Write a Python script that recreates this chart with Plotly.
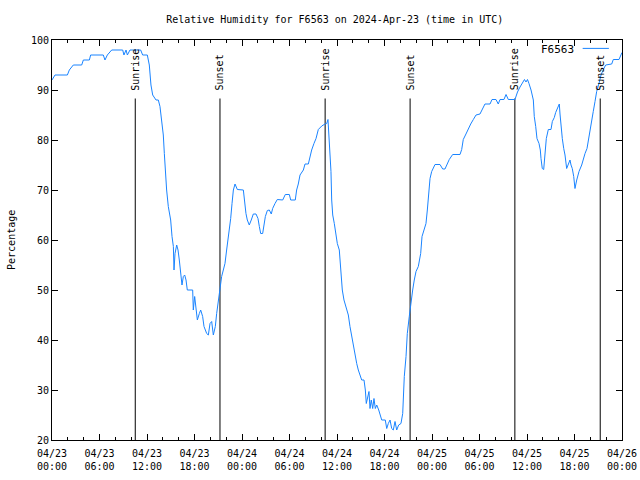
import pandas as pd
import plotly.graph_objects as go

# ---- data ----
station = "F6563"
start = "2024-04-23 00:00"
end = "2024-04-26 00:00"

# hours since 2024-04-23 00:00 UTC
hours = [
    0.0, 0.38, 1.94, 2.19, 2.69, 3.75, 3.96, 4.72, 4.88, 6.48, 6.69, 6.99, 7.54, 8.93, 9.09, 9.35,
    9.52, 9.85, 11.2, 11.45, 12.04, 12.29, 12.5, 12.72, 13.14, 13.43, 13.64, 13.85, 14.06, 14.19,
    14.32, 14.48, 14.69, 14.82, 14.99, 15.16, 15.33, 15.41, 15.54, 15.75, 15.92, 16.08, 16.25,
    16.42, 16.59, 16.76, 16.93, 17.09, 17.77, 17.85, 18.02,
    18.36, 18.61, 18.78, 19.03, 19.2, 19.54, 19.75, 19.96, 20.17, 20.38, 20.63, 20.8, 21.01, 21.22,
    21.43, 21.64, 21.85, 22.06, 22.23, 22.4, 22.57, 22.74, 22.91, 23.12, 23.41, 24.17, 24.29, 24.5,
    24.67, 24.92, 25.17, 25.43, 25.77, 26.02, 26.19, 26.36, 26.61, 26.78, 26.95, 27.2, 27.45, 27.7,
    27.87, 28.17, 28.46, 29.14, 29.47, 29.98, 30.15, 30.73, 30.9, 31.11, 31.33, 31.75, 31.96, 32.38,
    32.59, 32.8, 33.09, 33.35, 33.64, 34.07, 34.48, 34.7, 34.86,
    35.12, 35.24, 35.33, 35.46, 35.66, 35.84, 36.04, 36.29, 36.47, 36.67, 36.88, 37.14, 37.43,
    37.64, 37.86, 38.06, 38.27, 38.49, 38.69, 38.91, 39.12, 39.41, 39.58, 39.70, 39.88, 40.04,
    40.17, 40.33, 40.51, 40.67, 40.84, 41.02, 41.27, 41.43, 41.65, 42.10, 42.28, 42.48, 42.70,
    42.91, 43.11, 43.33, 43.54, 43.79, 44.08, 44.30, 44.50, 44.72, 44.88, 45.13, 45.35, 45.56,
    45.76, 45.98, 46.27, 46.57, 46.74, 46.95, 47.24, 47.41, 47.58, 47.75, 47.96, 48.16, 48.38,
    49.01, 49.35, 49.64, 49.86, 50.18, 50.61, 51.54, 51.75, 51.95, 52.29, 52.59, 52.89, 53.22,
    53.56, 54.06, 54.38, 54.69, 55.33, 55.58, 56.08, 56.37, 56.59, 57.09, 57.35, 57.64, 58.48,
    58.80, 59.12, 59.43, 59.68, 59.87, 60.06, 60.25, 60.51, 60.80, 60.92, 61.10, 61.26, 61.52,
    61.68, 61.77, 61.93, 62.11, 62.27, 62.44, 62.69, 63.03, 63.20, 63.45, 63.62, 63.88, 64.08,
    64.17, 64.29, 64.46, 64.64, 64.80, 65.01, 65.22, 65.43, 65.56, 65.72, 65.90, 66.06, 66.28,
    66.57, 66.91, 67.12, 67.33, 67.58, 67.74, 67.96, 68.17, 68.37, 68.59, 68.80, 69.09, 69.35,
    69.64, 69.94, 70.70, 70.90, 71.62, 71.83, 72.0,
]
humidity = [
    92, 93, 93, 94, 95, 95, 96, 96, 97, 97, 96, 97, 98, 98, 97, 98,
    97, 98, 98, 97, 97, 95, 91, 89, 88, 88, 86.7, 83.7, 81, 77.3,
    73.3, 70, 66.7, 65.3, 64, 60.7, 58.7, 54, 57.3, 59, 58, 56, 53.3,
    51, 52.7, 53, 52, 50, 50, 46, 48.7,
    44, 45.3, 46, 44.7, 42.7, 41.3, 41, 43.3, 43.7, 41, 42.7, 45.3, 48, 50.7,
    52.7, 54, 55.3, 58, 60, 62.7, 64.3, 67.3, 70, 71.2, 70.1, 70, 68, 65.3,
    64, 63, 64, 65.2, 65.2, 64.3, 62.7, 61.3, 61.3, 63, 64.7, 65.9, 66, 65.2,
    66.3, 67.3, 68.1, 68, 69.1, 69.1, 68, 68, 70, 71.2, 73, 74, 75.2, 75.2,
    76.7, 78, 79.3, 80.3, 82.1, 82.8, 83.2, 83.3, 84.1,
    78.3, 73.7, 68, 65, 63.3, 61, 59.3, 58, 54, 50, 48, 46.3, 45,
    42.7, 40.7, 38.7, 37, 35.3, 34, 33, 32, 32, 30, 27.3, 29, 29.7,
    26.3, 28, 26.3, 28.3, 26.3, 27, 26, 25, 24, 24, 22.3, 23.3, 24,
    22.3, 22, 23.7, 22, 23, 23.3, 25.3, 32.7, 36.7, 41.3, 44.7, 48, 50,
    52, 53.7, 54.7, 57.3, 60.7, 62, 63.3, 66, 70, 72.3, 73.7, 74.5, 75.1,
    75.1, 74.2, 74.2, 75.1, 76.1, 77.1, 77.1, 78.1, 80.1, 81.2, 82.3, 83.2, 84.1,
    85, 85.2, 86.1, 87.2, 87.2, 88.1, 88.1, 87.2, 88.1, 88.1, 89.1, 88.1, 88.1,
    89.6, 90.6, 91.5, 92.1, 91.6, 92.1, 91.3, 90, 88, 84.7, 82.7, 80.3, 79.3,
    78, 76.3, 74.3, 74.1, 78, 80.3, 82.1, 82.1, 83.7, 84.5, 85.5, 86.3, 87.2,
    85.2, 82.7, 80.3, 78.3, 77, 74.3, 75, 76, 75, 74.3, 72.7, 70.3, 72,
    73.7, 75, 76.3, 77.3, 78.3, 79.7, 81.3, 83.3, 85.7, 87.7, 89.7, 91.3, 93,
    94.1, 95, 95.2, 96.1, 96.1, 97, 97.5,
]

sunrise = ["2024-04-23 10:31", "2024-04-24 10:30", "2024-04-25 10:28"]
sunset = ["2024-04-23 21:13", "2024-04-24 21:14", "2024-04-25 21:15"]
marker_bottom = 20
marker_top = 88.3
label_y = 89.5

y_ticks = [20, 30, 40, 50, 60, 70, 80, 90, 100]

# ---- figure ----
FONT = "DejaVu Sans Mono"
LINE_COLOR = "#1a84ff"

times = pd.Timestamp(start) + pd.to_timedelta(hours, unit="h")

fig = go.Figure()

events = [(t, "Sunrise") for t in sunrise] + [(t, "Sunset") for t in sunset]
for t, name in events:
    fig.add_trace(go.Scatter(
        x=[t, t], y=[marker_bottom, marker_top], mode="lines",
        line=dict(color="black", width=1), showlegend=False, hoverinfo="skip",
    ))
    fig.add_annotation(
        x=t, y=label_y, xref="x", yref="y", text=name, textangle=-90,
        showarrow=False, xanchor="center", yanchor="bottom",
        font=dict(family=FONT, size=10, color="black"),
    )

fig.add_trace(go.Scatter(
    x=times, y=humidity, mode="lines", name=station,
    line=dict(color=LINE_COLOR, width=1), showlegend=False,
))

# legend drawn gnuplot-style: label then sample line
fig.add_annotation(
    x=0.919, y=0.977, xref="paper", yref="paper", text=station,
    showarrow=False, xanchor="right", yanchor="middle",
    font=dict(family=FONT, size=11, color="black"),
)
fig.add_shape(
    type="line", xref="paper", yref="paper", x0=0.931, x1=0.977, y0=0.979, y1=0.979,
    line=dict(color=LINE_COLOR, width=1),
)

fig.add_annotation(
    x=-0.072, y=0.5, xref="paper", yref="paper", text="Percentage",
    textangle=-90, showarrow=False, xanchor="center", yanchor="middle",
    font=dict(family=FONT, size=10, color="black"),
)

fig.update_layout(
    width=640, height=480,
    margin=dict(l=52, r=18, t=40, b=40, autoexpand=False),
    paper_bgcolor="white", plot_bgcolor="white",
    title=dict(
        text=f"Relative Humidity for {station} on 2024-Apr-23 (time in UTC)",
        x=0.523, xanchor="center", y=0.96, yanchor="middle",
        font=dict(family=FONT, size=10, color="black"),
    ),
    font=dict(family=FONT, size=10, color="black"),
    showlegend=False,
)

fig.update_xaxes(
    type="date", range=[start, end], automargin=False,
    tick0=start, dtick=6 * 3600 * 1000, tickformat="%m/%d<br>%H:%M",
    ticks="inside", ticklen=6, tickcolor="black", tickwidth=1,
    ticklabelstandoff=4,
    showline=True, linecolor="black", linewidth=1, mirror="ticks",
    showgrid=False, zeroline=False,
    minor=dict(dtick=2 * 3600 * 1000, ticks="inside", ticklen=3,
               tickcolor="black", showgrid=False),
    tickfont=dict(family=FONT, size=10, color="black"),
)
fig.update_yaxes(
    range=[20, 100], tickvals=y_ticks, automargin=False,
    ticks="inside", ticklen=6, tickcolor="black", tickwidth=1,
    showline=True, linecolor="black", linewidth=1, mirror="ticks",
    showgrid=False, zeroline=False,
    tickfont=dict(family=FONT, size=10, color="black"),
)

fig.write_html(
    "out.html",
    config={"displayModeBar": False},
    post_script="document.body.style.margin='0px';document.body.style.overflow='hidden';",
)
